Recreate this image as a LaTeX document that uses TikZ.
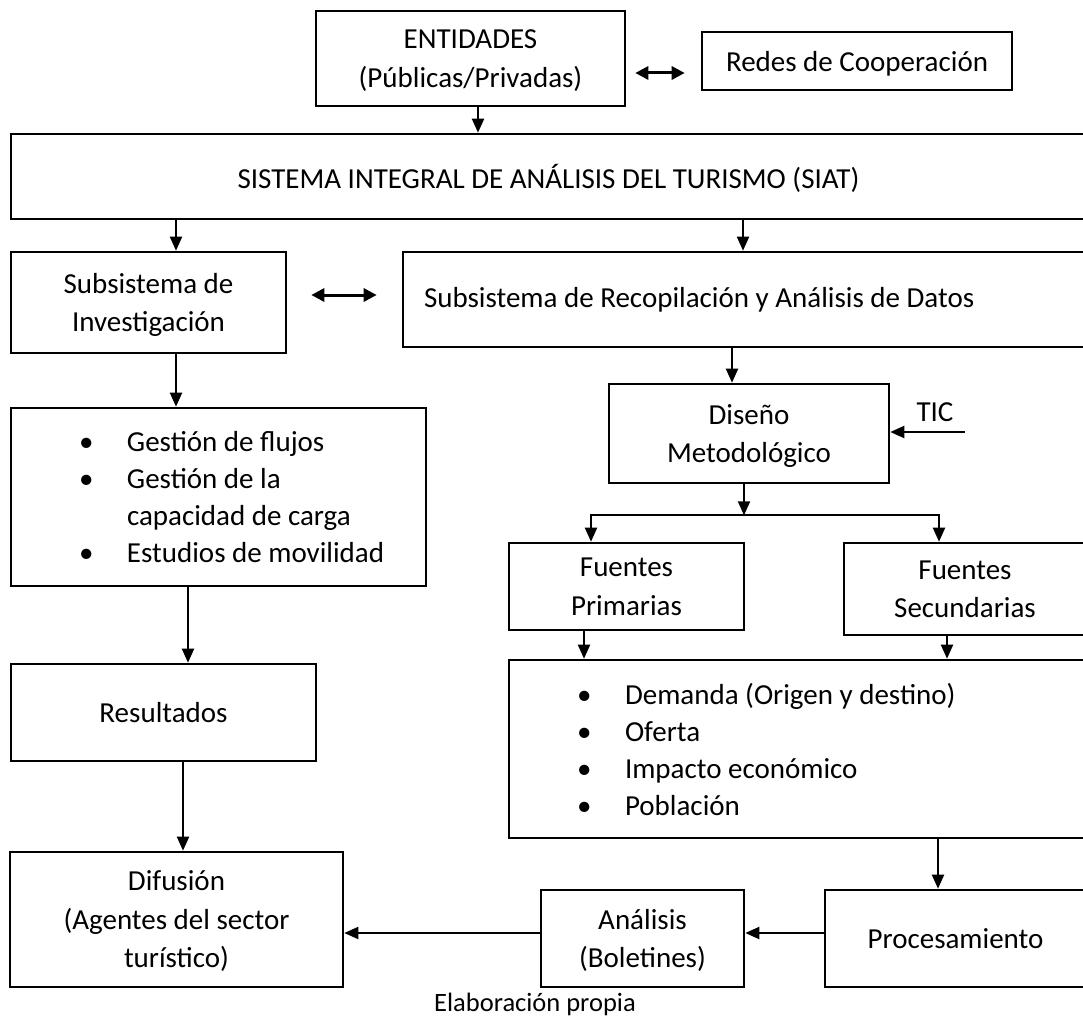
\documentclass[tikz,border=0pt]{standalone}
\usepackage{fontspec}
\setmainfont{Carlito}
\usetikzlibrary{arrows.meta,calc}
\newcommand\bitem{\makebox[48pt][l]{\textbullet}}
\begin{document}
\begin{tikzpicture}[x=1pt,y=-1pt,
  box/.style={draw, line width=2.6pt, inner sep=0pt, align=center, font=\fontsize{29}{38.5}\selectfont},
  cbox/.style={box, text depth=0pt},
  lbox/.style={box, align=left, font=\fontsize{29}{37}\selectfont, execute at begin node={\spaceskip=0pt\xspaceskip=0pt\relax}},
  lbl/.style={font=\fontsize{29}{38}\selectfont, inner sep=0pt},
  arr/.style={line width=2pt, -{Triangle[length=14pt,width=12pt]}},
  arrboth/.style={line width=2pt, {Triangle[length=14pt,width=12pt]}-{Triangle[length=14pt,width=12pt]}},
  darr/.style={line width=3pt, {Triangle[length=13pt,width=13pt]}-{Triangle[length=13pt,width=13pt]}}]
\useasboundingbox (0,0) rectangle (1083,1016);

% boxes
\node[cbox, minimum width=309pt, minimum height=95pt] (ent) at (470.5,58.5) {ENTIDADES\\(Públicas/Privadas)};
\node[cbox, minimum width=310pt, minimum height=58pt] (redes) at (857,61) {Redes de Cooperación};
\node[cbox, minimum width=1075pt, minimum height=85pt] (siat) at (548.5,176.5) {SISTEMA INTEGRAL DE ANÁLISIS DEL TURISMO (SIAT)};
\node[cbox, minimum width=275pt, minimum height=101pt] (inv) at (148.5,302.5) {Subsistema de\\Investigación};
\node[lbox, minimum width=683pt, minimum height=95pt, text width=641pt] (rec) at (744.5,299.5) {\spaceskip=0pt\mbox{Subsistema de Recopilación y Análisis de Datos}};
\node[cbox, minimum width=280pt, minimum height=99pt] (dis) at (749,433.5) {Diseño\\Metodológico};
\node[lbl] (tic) at (935,412) {TIC};
\coordinate (ticin) at (965,432);
\node[lbox, minimum width=415pt, minimum height=178pt, text width=279pt] (ges) at (218.5,497)
  {\spaceskip=0pt\mbox{\bitem Gestión de flujos}\\\mbox{\bitem Gestión de la}\\\mbox{\hspace*{48pt}capacidad de carga}\\\mbox{\bitem Estudios de movilidad}};
\node[cbox, minimum width=235pt, minimum height=87pt] (fp) at (626.5,586.5) {Fuentes\\Primarias};
\node[cbox, minimum width=242pt, minimum height=92pt] (fs) at (965,589) {Fuentes\\Secundarias};
\node[lbox, minimum width=577pt, minimum height=178pt, text width=441pt] (blt) at (797.5,749)
  {\spaceskip=0pt\mbox{\bitem Demanda (Origen y destino)}\\\mbox{\bitem Oferta}\\\mbox{\bitem Impacto económico}\\\mbox{\bitem Población}};
\node[cbox, minimum width=305pt, minimum height=97pt] (res) at (163.5,712.5) {Resultados};
\node[cbox, minimum width=333pt, minimum height=135pt] (dif) at (176.5,919.5) {Difusión\\(Agentes del sector\\turístico)};
\node[cbox, minimum width=203pt, minimum height=97pt] (ana) at (642.5,938.5) {Análisis\\(Boletines)};
\node[cbox, minimum width=261pt, minimum height=97pt] (pro) at (955.5,938.5) {Procesamiento};
\node[font=\fontsize{26.5}{30}\selectfont, inner sep=0pt] (cap) at (535,1004) {Elaboración propia};

% connectors
\draw[arr] ($(ent.south)+(7.5,0)$) -- ($(siat.north)+(-70.5,0)$);
\draw[darr] ($(ent.east)+(9,14.5)$) -- ($(redes.west)+(-16,12)$);
\draw[arr] ($(siat.south)+(-372.5,0)$) -- ($(inv.north)+(27.5,0)$);
\draw[arr] ($(siat.south)+(194.5,0)$) -- ($(rec.north)+(-1.5,0)$);
\draw[darr] ($(inv.east)+(24,-7.5)$) -- ($(rec.west)+(-25,-4.5)$);
\draw[arr] ($(rec.south)+(-12.5,0)$) -- ($(dis.north)+(-17,0)$);
\draw[arr] (ticin) -- ($(dis.east)+(0,-1.5)$);
\coordinate (br) at ($(dis.south)+(-5,31)$);
\draw[arr] ($(dis.south)+(-5,0)$) -- (br);
\draw[arrboth] ($(fp.north)+(-35.5,0)$) |- (br) -| ($(fs.north)+(-26,0)$);
\draw[arr] ($(fp.south)+(-42.5,0)$) -- ($(blt.north)+(-213.5,0)$);
\draw[arr] ($(fs.south)+(-18,0)$) -- ($(blt.north)+(149.5,0)$);
\draw[arr] ($(blt.south)+(140.5,0)$) -- ($(pro.north)+(-17.5,0)$);
\draw[arr] ($(pro.west)+(0,-5.5)$) -- ($(ana.east)+(0,-5.5)$);
\draw[arr] ($(ana.west)+(0,-5.5)$) -- ($(dif.east)+(0,13.5)$);
\draw[arr] ($(inv.south)+(27.5,0)$) -- ($(ges.north)+(-42.5,0)$);
\draw[arr] ($(ges.south)+(-30.5,0)$) -- ($(res.north)+(24.5,0)$);
\draw[arr] ($(res.south)+(19.5,0)$) -- ($(dif.north)+(6.5,0)$);
\end{tikzpicture}
\end{document}
